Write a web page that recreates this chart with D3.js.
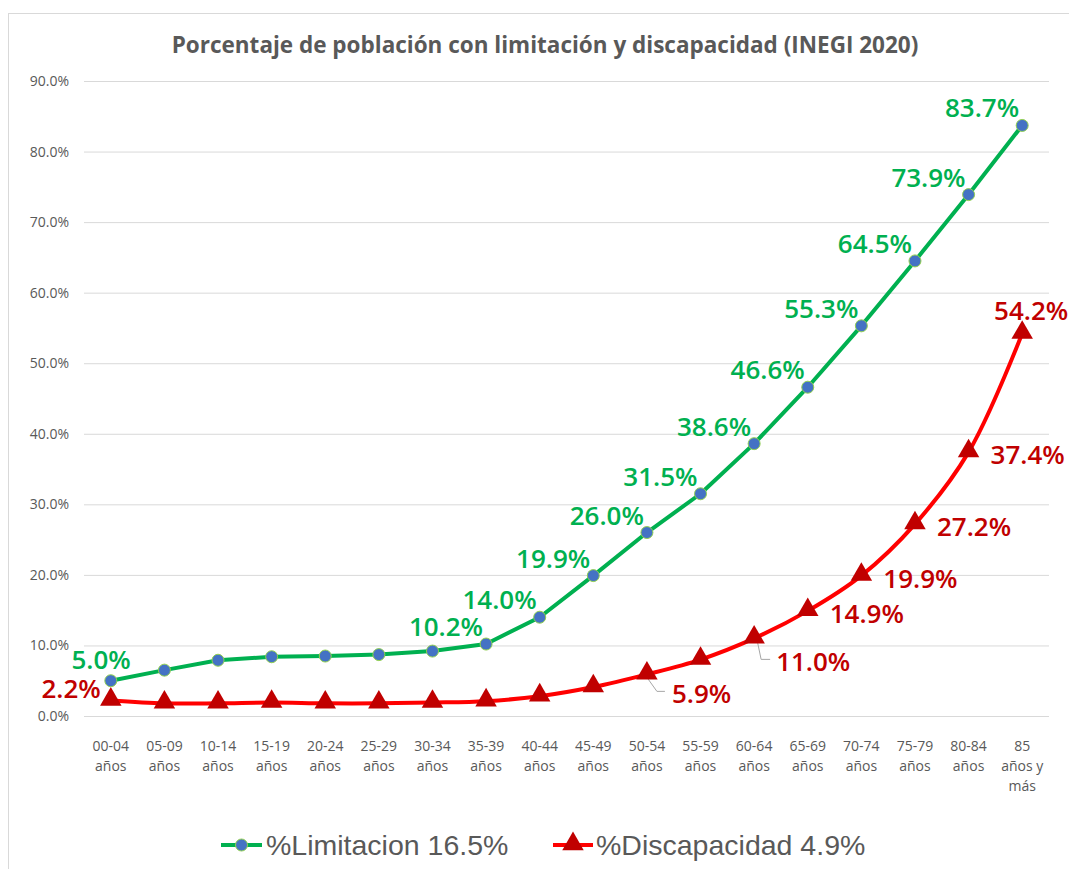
<!DOCTYPE html>
<html>
<head>
<meta charset="utf-8">
<script src="https://cdn.jsdelivr.net/npm/d3@7"></script>
<style>
  body { margin: 0; background: #fff; }
  text { font-family: "Open Sans", sans-serif; }
  .tick-label { fill: #595959; font-size: 14px; }
  .title { fill: #595959; font-size: 22.5px; font-weight: 700; }
  .legend-text { fill: #595959; font-size: 28.5px; font-family: "Liberation Sans", Arial, sans-serif; }
  .lbl { font-size: 26px; font-weight: 600; }
</style>
</head>
<body>
<svg id="chart" width="1069" height="869"></svg>
<script>
// age groups (two lines each)
const categories = [
  ['00-04', 'años'], ['05-09', 'años'], ['10-14', 'años'], ['15-19', 'años'],
  ['20-24', 'años'], ['25-29', 'años'], ['30-34', 'años'], ['35-39', 'años'],
  ['40-44', 'años'], ['45-49', 'años'], ['50-54', 'años'], ['55-59', 'años'],
  ['60-64', 'años'], ['65-69', 'años'], ['70-74', 'años'], ['75-79', 'años'],
  ['80-84', 'años'], ['85', 'años y', 'más']
];

// %Limitacion
const limitacion = [5.0, 6.5, 7.9, 8.4, 8.5, 8.7, 9.2, 10.2, 14.0, 19.9, 26.0, 31.5, 38.6, 46.6, 55.3, 64.5, 73.9, 83.7];
// %Discapacidad
const discapacidad = [2.2, 1.8, 1.8, 1.9, 1.8, 1.8, 1.9, 2.1, 2.8, 4.1, 5.9, 8.0, 11.0, 14.9, 19.9, 27.2, 37.4, 54.2];

// which green points carry a label
const limitacionLabeled = [0, 7, 8, 9, 10, 11, 12, 13, 14, 15, 16, 17];
// which red points carry a label
const discapacidadLabeled = [0, 10, 12, 13, 14, 15, 16, 17];

const yTicks = [0, 10, 20, 30, 40, 50, 60, 70, 80, 90];

const legendNames = ['%Limitacion 16.5%', '%Discapacidad 4.9%'];
const titleText = 'Porcentaje de población con limitación y discapacidad (INEGI 2020)';

const green = '#00B050';
const red = '#FF0000';
const darkRed = '#C00000';
const grid = '#d9d9d9';

const width = 1069;
const height = 869;
const margin = { top: 81, bottom: 153, left: 84, right: 20 };

const svg = d3.select('#chart');

// chart frame
svg.append('rect')
   .attr('x', 8.5).attr('y', 13.5)
   .attr('width', width + 10).attr('height', height + 10)
   .attr('fill', 'none').attr('stroke', grid);

svg.append('text')
   .attr('class', 'title')
   .attr('x', 545).attr('y', 53)
   .attr('text-anchor', 'middle')
   .text(titleText);

const x = d3.scaleBand()
            .domain(d3.range(categories.length))
            .range([margin.left, width - margin.right]);

const y = d3.scaleLinear()
            .domain([0, 90])
            .range([height - margin.bottom, margin.top]);

const cx = i => x(i) + x.bandwidth() / 2;

// gridlines
const yAxis = d3.axisLeft(y)
                .tickValues(yTicks)
                .tickSize(-(width - margin.right - margin.left))
                .tickFormat(d => d3.format('.1f')(d) + '%');

const yGroup = svg.append('g')
                  .attr('transform', translate(margin.left, 0))
                  .call(yAxis);
yGroup.select('.domain').remove();
yGroup.selectAll('.tick line').attr('stroke', grid);
yGroup.selectAll('.tick text')
      .attr('class', 'tick-label')
      .attr('x', -15)
      .attr('dy', '0.32em');

// x labels
const xGroup = svg.append('g');
categories.forEach((c, i) => {
  const t = xGroup.append('text')
                  .attr('class', 'tick-label')
                  .attr('text-anchor', 'middle');
  c.forEach((line, k) => {
    t.append('tspan')
     .attr('x', cx(i))
     .attr('y', 751 + k * 20)
     .text(line);
  });
});

// lines
const lineGreen = d3.line()
                    .x((d, i) => cx(i))
                    .y(d => y(d));
const lineRed = d3.line()
                  .x((d, i) => cx(i))
                  .y(d => y(d))
                  .curve(d3.curveCatmullRom.alpha(0.5));

svg.append('path')
   .attr('d', lineGreen(limitacion))
   .attr('fill', 'none').attr('stroke', green).attr('stroke-width', 4)
   .attr('stroke-linejoin', 'round');

svg.append('path')
   .attr('d', lineRed(discapacidad))
   .attr('fill', 'none').attr('stroke', red).attr('stroke-width', 4)
   .attr('stroke-linejoin', 'round');

// leader lines for red labels under the curve
const leaders = [
  [10, [[0, 3], [10, 17], [18, 17]]],
  [12, [[3, 2], [7, 21], [16, 21]]]
];
leaders.forEach(([i, pts]) => {
  svg.append('path')
     .attr('d', d3.line()(pts.map(p => [cx(i) + p[0], y(discapacidad[i]) + p[1]])))
     .attr('fill', 'none').attr('stroke', '#a6a6a6').attr('stroke-width', 1);
});

// markers
const triangle = d3.symbol().type(d3.symbolTriangle).size(200);

svg.append('g').selectAll('path')
   .data(discapacidad)
   .enter().append('path')
   .attr('d', triangle)
   .attr('transform', (d, i) => translate(cx(i), y(d) - 1))
   .attr('fill', darkRed);

svg.append('g').selectAll('circle')
   .data(limitacion)
   .enter().append('circle')
   .attr('cx', (d, i) => cx(i))
   .attr('cy', d => y(d))
   .attr('r', 6)
   .attr('fill', '#4472C4')
   .attr('stroke', '#92D050')
   .attr('stroke-width', 1);

// data labels
const fmt = d => d3.format('.1f')(d) + '%';

limitacionLabeled.forEach(i => {
  svg.append('text')
     .attr('class', 'lbl')
     .attr('fill', green)
     .attr('x', cx(i) + (i === 0 ? 20 : -3))
     .attr('y', y(limitacion[i]) - (i === 0 ? 12 : 8))
     .attr('text-anchor', 'end')
     .text(fmt(limitacion[i]));
});

discapacidadLabeled.forEach(i => {
  const px = cx(i), py = y(discapacidad[i]);
  let tx, ty, anchor;
  if (i === 0) { tx = px - 10; ty = py - 2; anchor = 'end'; }
  else if (i === 10) { tx = px + 25; ty = py + 29; anchor = 'start'; }
  else if (i === 12) { tx = px + 22; ty = py + 33; anchor = 'start'; }
  else if (i === 17) { tx = px + 9; ty = py - 14; anchor = 'middle'; }
  else { tx = px + 22; ty = py + 12; anchor = 'start'; }
  svg.append('text')
     .attr('class', 'lbl')
     .attr('fill', darkRed)
     .attr('x', tx).attr('y', ty)
     .attr('text-anchor', anchor)
     .text(fmt(discapacidad[i]));
});

// legend
const legend = svg.append('g').attr('transform', translate(0, 845));
legend.append('line')
      .attr('x1', 221).attr('x2', 262).attr('y1', 0).attr('y2', 0)
      .attr('stroke', green).attr('stroke-width', 4);
legend.append('circle')
      .attr('cx', 241.5).attr('cy', 0).attr('r', 6)
      .attr('fill', '#4472C4').attr('stroke', '#92D050');
legend.append('text')
      .attr('class', 'legend-text')
      .attr('x', 266).attr('y', 10)
      .text(legendNames[0]);

legend.append('line')
      .attr('x1', 553).attr('x2', 593).attr('y1', 0).attr('y2', 0)
      .attr('stroke', red).attr('stroke-width', 4);
legend.append('path')
      .attr('d', triangle)
      .attr('transform', translate(573, -1))
      .attr('fill', darkRed);
legend.append('text')
      .attr('class', 'legend-text')
      .attr('x', 596).attr('y', 10)
      .text(legendNames[1]);

function translate(x, y) {
  return 'translate(' + String(x) + ',' + String(y) + ')';
}
</script>
</body>
</html>
